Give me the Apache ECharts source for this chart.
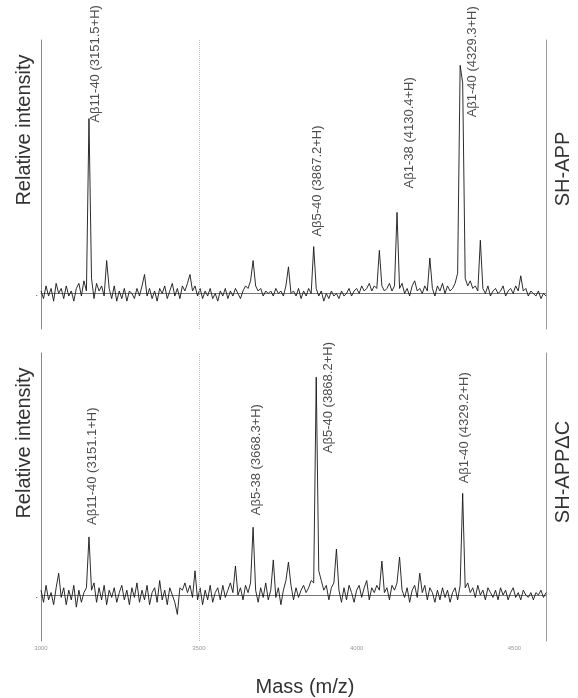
<!DOCTYPE html>
<html><head><meta charset="utf-8">
<script src="https://cdn.jsdelivr.net/npm/echarts@6/dist/echarts.min.js"></script>
<style>html,body{margin:0;padding:0;background:#fff}#c{width:578px;height:698px}</style>
</head><body><div id="c"></div>
<script>
// ---------- DATA ----------
const massStart = 3000;   // first sample (m/z)
const massStep = 8;       // spacing between samples (m/z)
const xTicks = [3000, 3500, 4000, 4500];
const gridMarkMass = 3500;

// SH-APP spectrum (relative intensity, baseline = 0)
const intensityTop = [
  1,-2,3,-1,2,-3,4,0,2,-2,3,-1,1,-3,2,4,-1,5,1,69,
  6,-2,4,1,3,-1,13,2,-2,3,-3,1,-2,2,-3,1,0,-2,2,-1,
  3,7.5,-1,2,-2,1,-3,2,0,3,-2,1,4,-1,2,-2,3,1,4,7.5,
  1,3,-1,2,-2,1,-1,2,-2,0,-3,1,-1,2,-2,1,-1,2,0,-2,
  1,3,2,5,13,3,1,2,-1,1,0,1,-1,2,0,1,-1,3,10.5,0,
  1,-1,2,-2,1,-1,2,0,18.5,2,-1,1,-3,0,-2,1,-1,0,-2,1,
  -1,0,2,-1,1,2,0,3,1,2,4,1,3,2,17,3,1,2,4,1,
  3,32,2,4,0,2,-1,3,5,1,2,0,3,1,14,2,-1,3,1,4,
  0,3,1,2,4,8,90,83,6,3,5,2,3,1,21,2,0,3,-1,1,
  2,0,1,3,-1,1,2,0,3,1,7,1,2,-1,1,0,-1,1,-2,0,
  -1
];

// SH-APPΔC spectrum (relative intensity, baseline = 0)
const intensityBottom = [
  2,-3,4,-2,1,-4,3,9,-1,3,-4,2,-2,4,-5,2,-3,1,3,24,
  2,5,-3,3,-2,4,-4,2,-1,3,-3,1,4,-2,2,-4,3,-1,5,-3,
  2,-2,4,-4,1,3,-3,6,-2,2,-4,3,0,-3,-8,3,2,5,1,4,
  -1,10,-2,3,-4,2,-2,4,-3,1,3,-2,4,-1,2,5,1,12,0,3,
  -2,4,1,5,28,2,-3,3,-1,5,-2,2,14.5,-1,3,-4,2,6,13.6,4,
  -2,3,-1,2,4,1,3,6,5,90,10,6,2,4,-2,3,5,19,2,-3,
  3,-2,4,1,-3,2,4,-1,3,6,-2,3,1,4,2,14,1,3,-2,4,
  2,5,15.7,2,-1,3,-3,2,4,-1,9,1,4,-2,3,1,-3,2,-2,3,
  -1,2,-3,1,3,-2,4,42,3,5,1,3,-1,4,0,2,-2,3,1,-1,
  2,-2,3,0,2,-2,1,3,-1,1,-2,2,0,-1,1,-2,1,0,2,-1,
  1
];

// Peak annotations: [label, mass, peak height]
const peakLabelsTop = [
  ['Aβ11-40 (3151.5+H)', 3151.5, 69],
  ['Aβ5-40 (3867.2+H)', 3867.2, 18.5],
  ['Aβ1-38 (4130.4+H)', 4130.4, 32],
  ['Aβ1-40 (4329.3+H)', 4329.3, 90]
];
const peakLabelsBottom = [
  ['Aβ11-40 (3151.1+H)', 3151.1, 24],
  ['Aβ5-38 (3668.3+H)', 3668.3, 28],
  ['Aβ5-40 (3868.2+H)', 3868.2, 90],
  ['Aβ1-40 (4329.2+H)', 4329.2, 42]
];
const panelNames = ['SH-APP', 'SH-APPΔC'];
const yAxisTitle = 'Relative intensity';
const xAxisTitle = 'Mass (m/z)';

// ---------- STYLE ----------
// label offsets: [along text (upwards), sideways (right)] in px
const labelOffsetsTop = [[-4, 7], [10, 3], [24, 12], [-52, 12]];
const labelOffsetsBottom = [[12, 4], [12, 4], [-76, 13], [10, 4]];
const FONT = '"Liberation Sans", Arial, Helvetica, sans-serif';

function toSeries(arr) {
  return arr.map((v, i) => [massStart + massStep * i, v]);
}
function labelData(list, offsets) {
  return list.map((d, i) => ({
    value: [d[1], d[2]],
    name: d[0],
    label: { offset: offsets[i] }
  }));
}

const chart = echarts.init(document.getElementById('c'), null, { renderer: 'canvas' });

const grids = [
  { left: 41, top: 40, width: 505, height: 289 },
  { left: 41, top: 353, width: 505, height: 288 }
];
const yRanges = [[-14, 100], [-19, 100]];

const xAxes = [0, 1].map(g => ({
  type: 'value', gridIndex: g, min: 3000, max: 4600, interval: 500,
  axisLine: { show: true, lineStyle: { color: '#777', width: 1 } },
  axisTick: { show: false },
  splitLine: { show: false },
  axisLabel: {
    show: g === 1, fontSize: 6, color: '#999', margin: 4, fontFamily: FONT,
    showMaxLabel: false,
    formatter: v => (xTicks.indexOf(v) >= 0 ? String(v) : '')
  }
}));

const yAxes = [];
[0, 1].forEach(g => {
  yAxes.push({
    type: 'value', gridIndex: g, min: yRanges[g][0], max: yRanges[g][1],
    interval: Math.abs(yRanges[g][0]),
    axisLine: { show: true, lineStyle: { color: '#888', width: 1 } },
    axisTick: { show: false }, splitLine: { show: false },
    axisLabel: { show: true, margin: 3, fontSize: 9, color: '#444', formatter: v => (v === 0 ? '.' : '') }
  });
  yAxes.push({
    type: 'value', gridIndex: g, position: 'right', min: yRanges[g][0], max: yRanges[g][1],
    axisLine: { show: true, lineStyle: { color: '#999', width: 1 } },
    axisTick: { show: false }, splitLine: { show: false }, axisLabel: { show: false }
  });
});

function spectrumSeries(arr, g) {
  return {
    type: 'line', xAxisIndex: g, yAxisIndex: g * 2,
    data: toSeries(arr), showSymbol: false, symbol: 'none',
    lineStyle: { color: '#151515', width: 0.9 },
    animation: false, silent: true,
    markLine: {
      silent: true, symbol: 'none', label: { show: false },
      lineStyle: { type: 'dotted', color: '#bbb', width: 1 },
      data: [{ xAxis: gridMarkMass }]
    }
  };
}
function labelSeries(list, offsets, g) {
  return {
    type: 'scatter', xAxisIndex: g, yAxisIndex: g * 2,
    data: labelData(list, offsets), symbolSize: 0, silent: true, animation: false,
    label: {
      show: true, position: 'inside', rotate: 90, align: 'left', verticalAlign: 'middle',
      formatter: p => p.name, fontSize: 13, color: '#222', fontFamily: FONT
    }
  };
}

const bigText = (text, x, y) => ({
  type: 'text', x: x, y: y, rotation: Math.PI / 2,
  style: { text: text, font: '20px ' + FONT, fill: '#333', textAlign: 'center', textVerticalAlign: 'middle' }
});

chart.setOption({
  backgroundColor: '#fff',
  animation: false,
  grid: grids,
  xAxis: xAxes,
  yAxis: yAxes,
  series: [
    spectrumSeries(intensityTop, 0),
    spectrumSeries(intensityBottom, 1),
    labelSeries(peakLabelsTop, labelOffsetsTop, 0),
    labelSeries(peakLabelsBottom, labelOffsetsBottom, 1)
  ],
  graphic: [
    bigText(yAxisTitle, 24, 130),
    bigText(yAxisTitle, 24, 443),
    bigText(panelNames[0], 563, 169),
    bigText(panelNames[1], 563, 472),
    { type: 'text', x: 305, y: 687, style: { text: xAxisTitle, font: '20px ' + FONT, fill: '#333', textAlign: 'center', textVerticalAlign: 'middle' } }
  ]
});
</script></body></html>
